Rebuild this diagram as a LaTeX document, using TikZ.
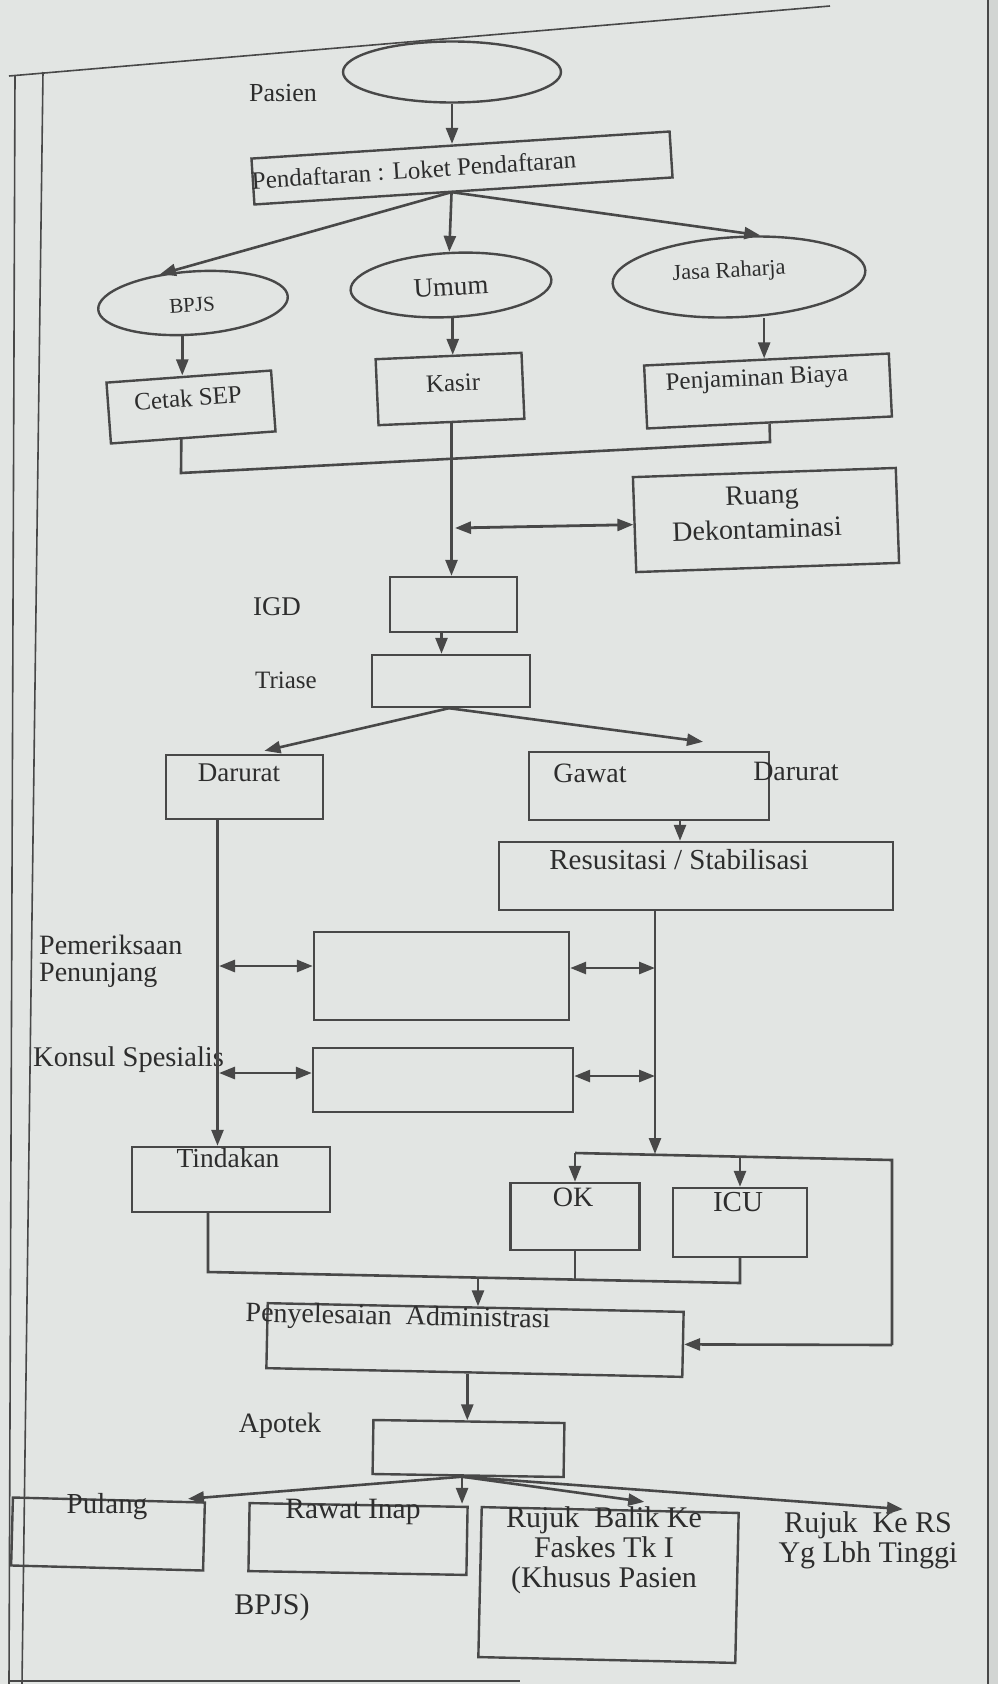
\documentclass[tikz,border=0pt]{standalone}
\usepackage{fontspec}
\setmainfont{Liberation Serif}
\usetikzlibrary{arrows.meta,shapes.geometric}
\definecolor{bg}{RGB}{226,229,227}
\definecolor{ink}{RGB}{72,72,72}
\definecolor{txt}{RGB}{45,45,45}
\newcommand{\fsz}[1]{\fontsize{#1}{#1}\selectfont}
\begin{document}
\begin{tikzpicture}[x=1pt,y=-1pt,
  ln/.style={draw=ink,line width=2.6pt},
  box/.style={draw=ink,line width=2.4pt,inner sep=0pt,rectangle},
  oval/.style={draw=ink,line width=2.4pt,inner sep=0pt,ellipse},
  arr/.style={draw=ink,line width=2.6pt,-{Triangle[length=16pt,width=12pt]}},
  darr/.style={draw=ink,line width=2.8pt,{Triangle[length=16pt,width=12pt]}-{Triangle[length=16pt,width=12pt]}},
  lbl/.style={text=txt,inner sep=0pt},
  pageline/.style={draw=ink,line width=1.6pt}]
\fill[bg] (0,0) rectangle (998,1684);
\useasboundingbox (0,0) rectangle (998,1684);
\fill[bg!93!black] (989,0) rectangle (998,1684);
% page frame
\draw[pageline] (9,76) -- (830,6);
\draw[pageline] (15,76) -- (9,1684);
\draw[pageline] (43,72) -- (22,1684);
\draw[pageline] (988,0) -- (988,1684);
\draw[pageline,line width=2pt] (9,1681) -- (520,1681);

% ---------- top ----------
\node[oval,minimum width=218pt,minimum height=61pt] (pasien) at (452,72) {};
\node[lbl,font=\fsz{26}] (tpasien) at (283,93) {Pasien};
\node[box,minimum width=419pt,minimum height=46pt,rotate=3.7] (reg) at (462,168) {};
\node[lbl,font=\fsz{25},rotate=3.7] (treg) at (414,170) {Pendaftaran : Loket Pendaftaran};
\draw[arr] (pasien.south) -- (pasien.south |- reg.north);

\node[oval,minimum width=190pt,minimum height=63pt,rotate=4] (bpjs) at (193,303) {};
\node[lbl,font=\fsz{21},rotate=4] (tbpjs) at (192,305) {BPJS};
\node[oval,minimum width=201pt,minimum height=64pt,rotate=3] (umum) at (451,285) {};
\node[lbl,font=\fsz{27},rotate=3] (tumum) at (451,287) {Umum};
\node[oval,minimum width=253pt,minimum height=80pt,rotate=3] (jasa) at (739,277) {};
\node[lbl,font=\fsz{22.5},rotate=3] (tjasa) at (729,272) {Jasa Raharja};

\coordinate (regO) at ([xshift=-12pt]reg.south);
\draw[arr] (regO) -- (bpjs.135);
\draw[arr] (regO) -- (umum.north);
\draw[arr] (regO) -- (jasa.60);

\node[box,minimum width=165pt,minimum height=61pt,rotate=4.2] (cetak) at (191,407) {};
\node[lbl,font=\fsz{25},rotate=4.2] (tcetak) at (188,398) {Cetak SEP};
\node[box,minimum width=146pt,minimum height=66pt,rotate=2.5] (kasir) at (450,389) {};
\node[lbl,font=\fsz{25},rotate=2.5] (tkasir) at (453,383) {Kasir};
\node[box,minimum width=245pt,minimum height=63pt,rotate=2.8] (penj) at (768,391) {};
\node[lbl,font=\fsz{25},rotate=2.8] (tpenj) at (757,380) {Penjaminan Biaya};

\coordinate (bp1) at ([xshift=-13pt]bpjs.south);
\draw[arr] (bp1) -- (bp1 |- cetak.north);
\draw[arr] (umum.south) -- (umum.south |- kasir.north);
\coordinate (js1) at ([xshift=23pt]jasa.south);
\draw[arr] (js1) -- (js1 |- penj.north);

\coordinate (cs) at ([xshift=-12pt]cetak.south);
\coordinate (m1) at (181,473);
\coordinate (m2) at (770,442);
\draw[ln] (cs) -- (m1) -- (m2) -- (penj.south);

\node[box,minimum width=263pt,minimum height=95pt,rotate=2] (ruang) at (766,520) {};
\node[lbl,font=\fsz{28},rotate=2] (truang1) at (762,498) {Ruang};
\node[lbl,font=\fsz{28},rotate=2] (truang2) at (757,529) {Dekontaminasi};

\node[box,minimum width=127pt,minimum height=55pt] (igd) at (453.5,604.5) {};
\node[lbl,font=\fsz{27}] (tigd) at (277,607) {IGD};
\draw[arr] (kasir.south) -- (kasir.south |- igd.north);
\coordinate (rd) at (455,528);
\draw[darr] (rd) -- (ruang.west);

\node[box,minimum width=158pt,minimum height=52pt] (triase) at (451,681) {};
\node[lbl,font=\fsz{25}] (ttriase) at (286,680) {Triase};
\coordinate (ig) at ([xshift=-12pt]igd.south);
\draw[arr] (ig) -- (ig |- triase.north);

% ---------- middle ----------
\node[box,minimum width=157pt,minimum height=64pt] (darurat) at (244.5,787) {};
\node[lbl,font=\fsz{27}] (tdarurat) at (239,773) {Darurat};
\node[box,minimum width=240pt,minimum height=68pt] (gawat) at (649,786) {};
\node[lbl,font=\fsz{28}] (tgawat1) at (590,773) {Gawat};
\node[lbl,font=\fsz{28}] (tgawat2) at (796,771) {Darurat};
\coordinate (tr) at ([xshift=-2pt]triase.south);
\draw[arr] (tr) -- ([xshift=20pt,yshift=3pt]darurat.north);
\draw[arr] (tr) -- ([xshift=54pt,yshift=9pt]gawat.north);

\node[box,minimum width=394pt,minimum height=68pt] (resus) at (696,876) {};
\node[lbl,font=\fsz{29}] (tresus) at (679,860) {Resusitasi / Stabilisasi};
\coordinate (gw) at ([xshift=31pt]gawat.south);
\draw[arr] (gw) -- (gw |- resus.north);

\node[box,minimum width=255pt,minimum height=88pt] (pem) at (441.5,976) {};
\node[lbl,font=\fsz{28},anchor=west] (tpem1) at (39,945) {Pemeriksaan};
\node[lbl,font=\fsz{28},anchor=west] (tpem2) at (39,975) {Penunjang};
\node[box,minimum width=260pt,minimum height=64pt] (kons) at (443,1080) {};
\node[lbl,font=\fsz{28.5},anchor=west] (tkons) at (33,1060) {Konsul Spesialis};

\node[box,minimum width=198pt,minimum height=65pt] (tind) at (231,1179.5) {};
\node[lbl,font=\fsz{27.5}] (ttind) at (228,1158) {Tindakan};

\coordinate (dd) at ([xshift=-27pt]darurat.south);
\draw[arr] (dd) -- (dd |- tind.north);
\coordinate (pl) at (219,966);
\coordinate (pr) at (655,968);
\coordinate (kl) at (219,1073);
\coordinate (kr) at (655,1076);
\draw[darr] (pl) -- ([yshift=10pt]pem.west);
\draw[darr] ([yshift=8pt]pem.east) -- (pr);
\draw[darr] (kl) -- ([yshift=7pt]kons.west);
\draw[darr] ([yshift=4pt]kons.east) -- (kr);

\node[box,minimum width=129pt,minimum height=67pt] (ok) at (575,1216.5) {};
\node[lbl,font=\fsz{28}] (tok) at (573,1197) {OK};
\node[box,minimum width=134pt,minimum height=69pt] (icu) at (740,1222.5) {};
\node[lbl,font=\fsz{29}] (ticu) at (738,1202) {ICU};

\coordinate (rs) at ([xshift=-41pt]resus.south);
\coordinate (sp) at (655,1154);
\draw[arr] (rs) -- (sp);
\coordinate (sl) at (575,1153);
\coordinate (sr) at (892,1160);
\coordinate (sb) at (892,1345);
\coordinate (si) at (740,1157);
\draw[ln] (sl) -- (sr) -- (sb);
\draw[arr] (sl) -- (ok.north);
\draw[arr] (si) -- (icu.north);

% ---------- lower ----------
\node[box,minimum width=416pt,minimum height=65pt,rotate=-1.2] (pen) at (475,1340) {};
\node[lbl,font=\fsz{28},rotate=-1.2] (tpen) at (398,1318) {Penyelesaian~ Administrasi};
\draw[arr] (sb) -- (pen.east);

\coordinate (tb) at ([xshift=-23pt]tind.south);
\coordinate (b1) at (208,1272);
\coordinate (b2) at (740,1283);
\coordinate (oj) at (575,1279.6);
\coordinate (pj) at (478,1277.6);
\draw[ln] (tb) -- (b1) -- (b2) -- (icu.south);
\draw[ln] (ok.south) -- (oj);
\draw[arr] (pj) -- (pj |- pen.north);

\node[box,minimum width=191pt,minimum height=54pt,rotate=-0.9] (apo) at (468.5,1448.5) {};
\node[lbl,font=\fsz{28}] (tapo) at (280,1426) {Apotek};
\coordinate (pa) at ([xshift=-7pt]pen.south);
\draw[arr] (pa) -- (pa |- apo.north);

\node[box,minimum width=192pt,minimum height=68pt,rotate=-1.5] (pulang) at (108,1534) {};
\node[lbl,font=\fsz{29}] (tpulang) at (107,1507) {Pulang};
\node[box,minimum width=218pt,minimum height=68pt,rotate=-1] (rawat) at (358,1539) {};
\node[lbl,font=\fsz{29.5}] (trawat) at (353,1512) {Rawat Inap};
\node[box,minimum width=257pt,minimum height=150pt,rotate=-1.3] (rb) at (608.5,1585) {};
\node[lbl,font=\fsz{30},align=center] (trb) at (604,1550)
  {\fontsize{30}{33}\selectfont Rujuk~ Balik Ke\\ Faskes Tk I\\ (Khusus Pasien};
\node[lbl,font=\fsz{30}] (tbpjs2) at (272,1607) {BPJS)};
\node[lbl,font=\fsz{30},align=center] (rk) at (868,1540)
  {\fontsize{30}{32}\selectfont Rujuk~ Ke RS\\ Yg Lbh Tinggi};

\coordinate (ao) at ([xshift=-6pt]apo.south);
\draw[arr] (ao) -- ([xshift=79pt]pulang.north);
\draw[arr] (ao) -- (ao |- rawat.north);
\draw[arr] (ao) -- ([xshift=34pt,yshift=7pt]rb.north);
\draw[arr] (ao) -- ([xshift=35pt,yshift=2pt]rk.north);
\end{tikzpicture}
\end{document}
